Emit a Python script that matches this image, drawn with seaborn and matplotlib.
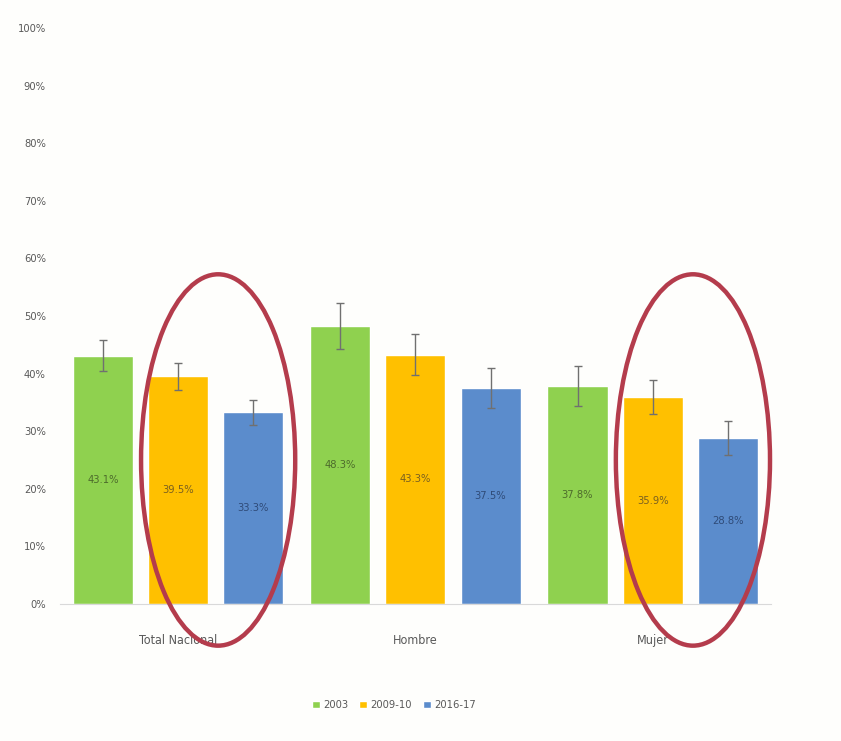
import matplotlib
matplotlib.use("Agg")
import matplotlib.pyplot as plt
from matplotlib.patches import Ellipse
import seaborn as sns
import pandas as pd

# data
groups = ["Total Nacional", "Hombre", "Mujer"]
periods = ["2003", "2009-10", "2016-17"]
v2003 = [43.1, 48.3, 37.8]
v2009 = [39.5, 43.3, 35.9]
v2016 = [33.3, 37.5, 28.8]
e2003 = [2.7, 4.0, 3.5]
e2009 = [2.3, 3.5, 3.0]
e2016 = [2.2, 3.5, 3.0]
colors = ["#8fd14f", "#ffc000", "#5b8ccc"]
label_colors = ["#4d6b2c", "#7a6020", "#2f4b78"]

rows = []
for p, vals, errs in zip(periods, [v2003, v2009, v2016], [e2003, e2009, e2016]):
    for g, v, e in zip(groups, vals, errs):
        rows.append({"grupo": g, "periodo": p, "valor": v, "err": e})
df = pd.DataFrame(rows)

sns.set_style("white")
plt.rcParams["font.family"] = ["DejaVu Sans"]
plt.rcParams["font.stretch"] = "condensed"

fig = plt.figure(figsize=(8.41, 7.41), dpi=100)
fig.patch.set_facecolor("#fefefc")
ax = fig.add_axes([0.071, 0.185, 0.846, 0.777])
ax.set_facecolor("#fefefc")

sns.barplot(data=df, x="grupo", y="valor", hue="periodo", order=groups,
            hue_order=periods, palette=colors, width=0.95, gap=0.2,
            errorbar=None, ax=ax, saturation=1)

for cont, p, lc in zip(ax.containers, periods, label_colors):
    sub = df[df["periodo"] == p].set_index("grupo").loc[groups]
    xs = [b.get_x() + b.get_width() / 2 for b in cont]
    ax.errorbar(xs, sub["valor"], yerr=sub["err"], fmt="none",
                ecolor="#707070", elinewidth=1, capsize=3, capthick=1)
    for b, v in zip(cont, sub["valor"]):
        ax.text(b.get_x() + b.get_width() / 2, v / 2, f"{v:.1f}%",
                ha="center", va="center", fontsize=8, color=lc)

ax.set_ylim(0, 100)
ax.set_xlim(-0.5, 2.5)
ax.set_yticks(range(0, 101, 10))
ax.set_yticklabels([f"{t}%" for t in range(0, 101, 10)], fontsize=8, color="#595959")
ax.tick_params(axis="x", labelsize=9, colors="#595959", pad=22, length=0)
ax.tick_params(axis="y", length=0, pad=10)
ax.set_xlabel("")
ax.set_ylabel("")
for s in ["top", "right", "left"]:
    ax.spines[s].set_visible(False)
ax.spines["bottom"].set_color("#d9d9d9")

# red circles around the 2009-10 / 2016-17 bars
for cx in [0.168, 2.17]:
    ax.add_patch(Ellipse((cx, 25), 0.65, 64.5, fill=False, edgecolor="#b43c4c",
                         linewidth=3.2, clip_on=False, zorder=5))

leg = ax.legend(loc="upper center", bbox_to_anchor=(0.47, -0.15), ncol=3,
                frameon=False, fontsize=8, handlelength=0.7, handleheight=0.7,
                columnspacing=1.0, handletextpad=0.3)
for t in leg.get_texts():
    t.set_color("#595959")

fig.savefig("out.png", dpi=100, facecolor=fig.get_facecolor())
